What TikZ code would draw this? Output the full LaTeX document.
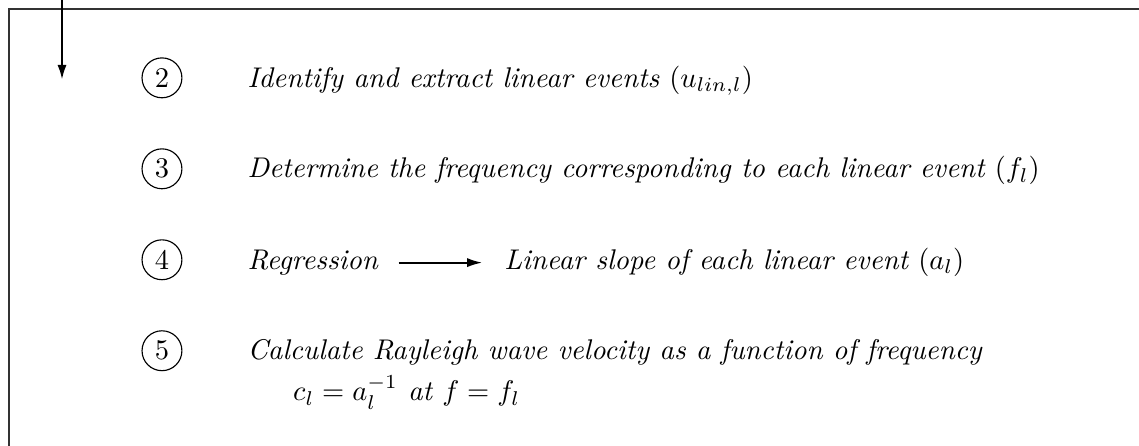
\documentclass[tikz,border=0pt]{standalone}
\usepackage{amsmath}
\usetikzlibrary{arrows.meta, positioning, calc}

\begin{document}
\begin{tikzpicture}[
  font=\normalsize\itshape,
  >={Latex[length=5.3pt,width=3.2pt]},
  stepnum/.style={circle, draw, minimum size=14pt, inner sep=0pt,
    font=\normalsize\upshape},
  steptext/.style={anchor=base west, font=\normalsize\itshape},
  flow/.style={->, line width=0.7pt, shorten <=3.7pt, shorten >=4.2pt},
  inflow/.style={->, line width=0.9pt},
  frame/.style={draw=black!80, line width=0.5pt}
]

% Page size
\useasboundingbox (0,0) rectangle (14.05,-5.50);
\clip (0,0) rectangle (14.05,-5.50);

% Outer frame (continues past the page)
\draw[frame] (0.111,-0.111) rectangle (15,-6.5);

% Incoming arrow
\coordinate (top) at (0.765,0.3);
\coordinate (entry) at (0.765,-0.987);
\draw[inflow] (top) -- (entry);

% Step numbers
\node[stepnum] (n2) at (1.998,-0.960) {2};
\node[stepnum, below=0.616cm of n2] (n3) {3};
\node[stepnum, below=0.616cm of n3] (n4) {4};
\node[stepnum, below=0.616cm of n4] (n5) {5};

% Step texts
\node[steptext] (t2) at ([xshift=0.932cm]n2.base)
  {Identify and extract linear events $(u_{lin,l})$};
\node[steptext] (t3) at ([xshift=0.932cm]n3.base)
  {Determine the frequency corresponding to each linear event $(f_l)$};
\node[steptext] (reg) at ([xshift=0.932cm]n4.base) {Regression};
\node[steptext, base right=1.31cm of reg] (slope)
  {Linear slope of each linear event $(a_l)$};
\node[steptext] (t5) at ([xshift=0.932cm]n5.base)
  {Calculate Rayleigh wave velocity as a function of frequency};
\node[steptext] (t5f) at ([xshift=16pt,yshift=-14.4pt]t5.base west)
  {$c_l = a_l^{-1}$ at $f = f_l$};

% Regression arrow
\draw[flow] (reg.east) -- (reg.east -| slope.west);

\end{tikzpicture}
\end{document}
